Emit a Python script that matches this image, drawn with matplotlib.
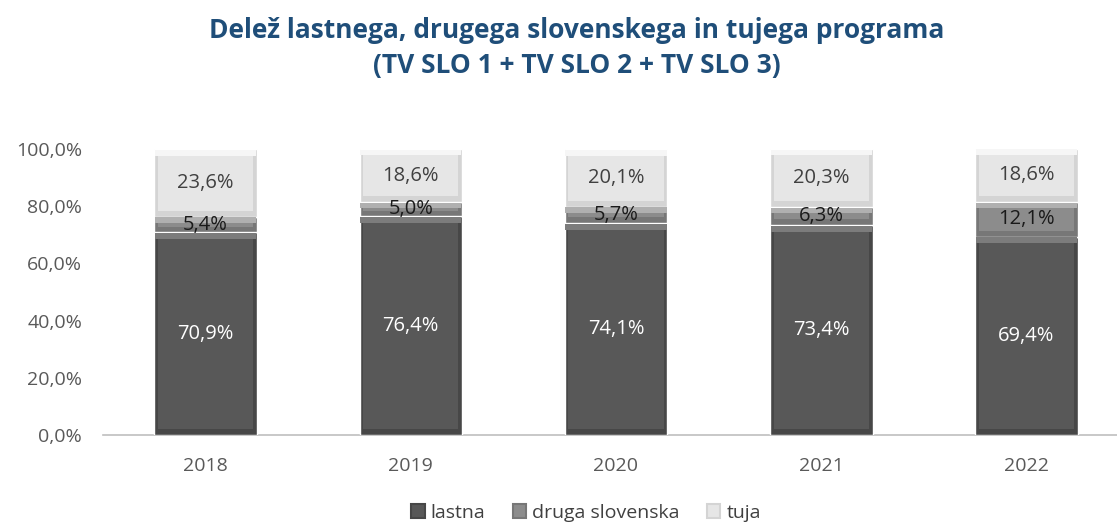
import matplotlib
matplotlib.use("Agg")
import matplotlib.pyplot as plt
from matplotlib.patches import Patch
import numpy as np

years = ["2018", "2019", "2020", "2021", "2022"]
lastna = [70.9, 76.4, 74.1, 73.4, 69.4]
druga = [5.4, 5.0, 5.7, 6.3, 12.1]
tuja = [23.6, 18.6, 20.1, 20.3, 18.6]
series_names = ["lastna", "druga slovenska", "tuja"]

plt.rcParams['font.family'] = ['Open Sans', 'DejaVu Sans']

fig = plt.figure(figsize=(11.17, 5.26), dpi=100)
ax = fig.add_axes([103/1117, 1-435/526, 1026/1117, (435-149)/526])

x = np.arange(len(years))
w = 0.50
styles = [
    # main, edge(dark), top highlight, text colour
    ("#585858", "#474747", "#7c7c7c", "white"),
    ("#8c8c8c", "#777777", "#b0b0b0", "#1a1a1a"),
    ("#e6e6e6", "#d4d4d4", "#f6f6f6", "#404040"),
]
data = [lastna, druga, tuja]
bottom = np.zeros(len(years))
bev_y = 2.0   # bevel thickness in data units
bev_x = 0.018
for vals, (main, edge, hi, tc) in zip(data, styles):
    vals = np.array(vals)
    # outer (darker sides)
    ax.bar(x, vals, w, bottom=bottom, color=edge, edgecolor="white", linewidth=1.0, zorder=2)
    # inner body
    inner_h = np.maximum(vals - 2 * bev_y, 0.3)
    ax.bar(x, inner_h, w - 2 * bev_x, bottom=bottom + bev_y, color=main, linewidth=0, zorder=3)
    # top highlight band
    hb = np.minimum(bev_y, vals / 3)
    ax.bar(x, hb, w - 0.006, bottom=bottom + vals - hb - 0.25, color=hi, linewidth=0, zorder=3)
    for xi, b, v in zip(x, bottom, vals):
        ax.text(xi, b + v / 2, f"{v:.1f}%".replace(".", ","), ha="center", va="center",
                fontsize=14.5, color=tc, zorder=5)
    bottom = bottom + vals

ax.set_xlim(-0.5, len(years) - 0.5)
ax.set_ylim(0, 100)
ax.set_yticks(np.arange(0, 101, 20))
ax.set_yticklabels([f"{v:.1f}%".replace(".", ",") for v in np.arange(0, 101, 20)])
ax.set_xticks(x)
ax.set_xticklabels(years)
ax.tick_params(axis="both", length=0, labelsize=14, colors="#595959")
ax.tick_params(axis="x", pad=16)
ax.tick_params(axis="y", pad=15)
for s in ["top", "right", "left"]:
    ax.spines[s].set_visible(False)
ax.spines["bottom"].set_color("#bfbfbf")
ax.spines["bottom"].set_linewidth(1.2)
ax.spines["bottom"].set_zorder(1)

fig.text(577/1117, 1 - 30/526, "Delež lastnega, drugega slovenskega in tujega programa",
         ha="center", va="center", fontsize=19, fontweight="bold", color="#1f4e79")
fig.text(577/1117, 1 - 66/526, "(TV SLO 1 + TV SLO 2 + TV SLO 3)",
         ha="center", va="center", fontsize=19, fontweight="bold", color="#1f4e79")

handles = [Patch(facecolor=s[0], edgecolor=s[1], linewidth=1.5) for s in styles]
fig.legend(handles, series_names, loc="center", bbox_to_anchor=(586/1117, 1 - 513/526), ncol=3,
           frameon=False, fontsize=14, handlelength=0.7, handleheight=0.7, handletextpad=0.3,
           columnspacing=1.4, labelcolor="#404040")

fig.savefig("out.png", dpi=100)
